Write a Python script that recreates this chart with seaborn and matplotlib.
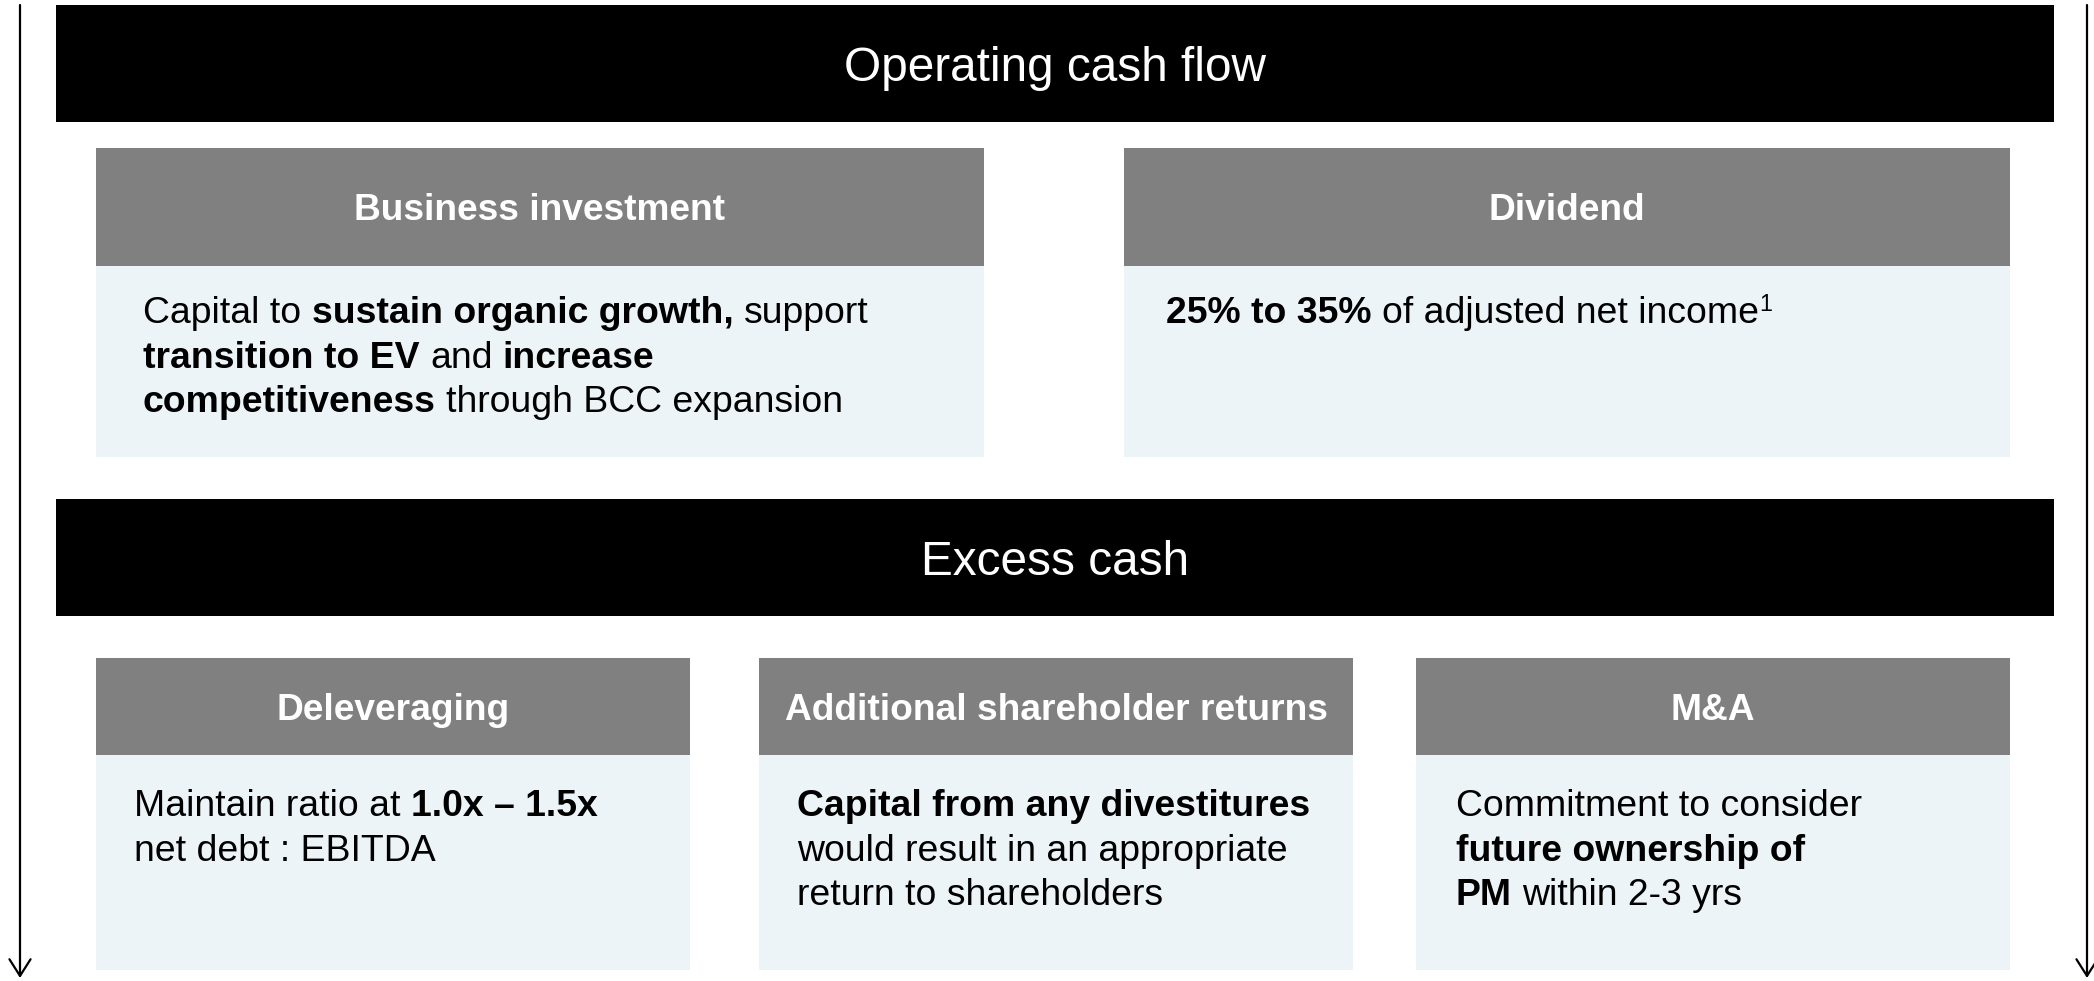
import matplotlib
matplotlib.use("Agg")
import matplotlib.pyplot as plt
from matplotlib.patches import Rectangle
import seaborn as sns

# Content of the capital allocation diagram
band_titles = ["Operating cash flow", "Excess cash"]

top_titles = ["Business investment", "Dividend"]
top_bodies = [
    [[("Capital to", "n"), ("sustain organic growth,", "b"), ("support", "n")],
     [("transition to EV", "b"), ("and", "n"), ("increase", "b")],
     [("competitiveness", "b"), ("through BCC expansion", "n")]],
    [[("25% to 35%", "b"), ("of adjusted net income", "n"), ("1", "sup")]],
]

bottom_titles = ["Deleveraging", "Additional shareholder returns", "M&A"]
bottom_bodies = [
    [[("Maintain ratio at", "n"), ("1.0x \u2013 1.5x", "b")],
     [("net debt : EBITDA", "n")]],
    [[("Capital from any divestitures", "b")],
     [("would result in an appropriate", "n")],
     [("return to shareholders", "n")]],
    [[("Commitment to consider", "n")],
     [("future ownership of", "b")],
     [("PM", "b"), ("within 2-3 yrs", "n")]],
]

# Layout (pixel units of the 2094 x 981 canvas)
W, H = 2094, 981
band_x = (56, 2054)
band_y = [(5, 122), (499, 616)]
top_x = [(96, 984), (1124, 2010)]
top_y = (148, 266, 457)          # header top, header bottom / body top, body bottom
top_text_x = [143, 1166]
top_base = 323
bottom_x = [(96, 690), (759, 1353), (1416, 2010)]
bottom_y = (658, 755, 970)
bottom_text_x = [134, 797, 1456]
bottom_base = 816
line_step = 44.6

BLACK = "#000000"
GREY = "#808080"
PALE = "#ECF4F8"

TITLE_FS = 34.4
HEAD_FS = 26.7
BODY_FS = 26.9

sns.set_theme(style="white")
plt.rcParams["font.family"] = ["Liberation Sans", "DejaVu Sans"]

fig = plt.figure(figsize=(W / 100, H / 100), dpi=100)
ax = fig.add_axes([0, 0, 1, 1])
ax.set_xlim(0, W)
ax.set_ylim(H, 0)
ax.axis("off")


def box(x0, x1, y0, y1, color):
    ax.add_patch(Rectangle((x0, y0), x1 - x0, y1 - y0, facecolor=color,
                           edgecolor="none", zorder=1))


def draw_line(x, y, runs, size):
    gap = 0.278 * size  # width of a space in Arial, in points
    prev = None
    for text, style in runs:
        weight = "bold" if style == "b" else "normal"
        if prev is None:
            prev = ax.text(x, y, text, fontsize=size, fontweight=weight,
                           va="baseline", ha="left", color="black", zorder=3)
        elif style == "sup":
            prev = ax.annotate(text, xy=(1, 0), xycoords=prev, xytext=(0.5, 10.5),
                               textcoords="offset points", fontsize=size * 0.62,
                               va="bottom", ha="left", color="black", zorder=3)
        else:
            prev = ax.annotate(text, xy=(1, 0), xycoords=prev, xytext=(gap, 0),
                               textcoords="offset points", fontsize=size,
                               fontweight=weight, va="bottom", ha="left",
                               color="black", zorder=3)


# black bands
for title, (y0, y1) in zip(band_titles, band_y):
    box(band_x[0], band_x[1], y0, y1, BLACK)
    cap = 0.716 * TITLE_FS * 100 / 72
    ax.text((band_x[0] + band_x[1]) / 2, (y0 + y1) / 2 + cap / 2, title,
            color="white", fontsize=TITLE_FS, ha="center", va="baseline", zorder=3)

# top row boxes
for title, body, (x0, x1), tx in zip(top_titles, top_bodies, top_x, top_text_x):
    box(x0, x1, top_y[0], top_y[1], GREY)
    box(x0, x1, top_y[1], top_y[2], PALE)
    cap = 0.716 * HEAD_FS * 100 / 72
    ax.text((x0 + x1) / 2, (top_y[0] + top_y[1]) / 2 + cap / 2, title,
            color="white", fontsize=HEAD_FS, fontweight="bold",
            ha="center", va="baseline", zorder=3)
    for i, runs in enumerate(body):
        draw_line(tx, top_base + i * line_step, runs, BODY_FS)

# bottom row boxes
for title, body, (x0, x1), tx in zip(bottom_titles, bottom_bodies, bottom_x, bottom_text_x):
    box(x0, x1, bottom_y[0], bottom_y[1], GREY)
    box(x0, x1, bottom_y[1], bottom_y[2], PALE)
    cap = 0.716 * HEAD_FS * 100 / 72
    ax.text((x0 + x1) / 2, (bottom_y[0] + bottom_y[1]) / 2 + cap / 2, title,
            color="white", fontsize=HEAD_FS, fontweight="bold",
            ha="center", va="baseline", zorder=3)
    for i, runs in enumerate(body):
        draw_line(tx, bottom_base + i * line_step, runs, BODY_FS)

# flow arrows on both sides
for ax_x in (20, 2087):
    ax.annotate("", xy=(ax_x, 978), xytext=(ax_x, 5),
                arrowprops=dict(arrowstyle="->, head_length=0.3, head_width=0.19",
                                mutation_scale=40, lw=1.6, color="black",
                                shrinkA=0, shrinkB=0))

fig.savefig("out.png", dpi=100, facecolor="white")
